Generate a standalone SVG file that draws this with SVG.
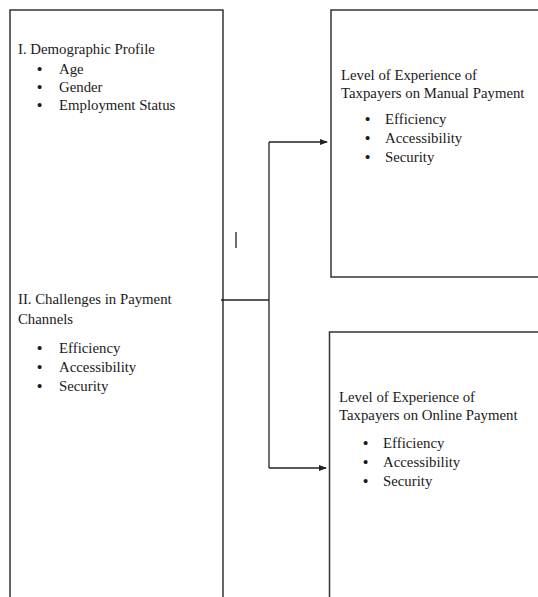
<svg xmlns="http://www.w3.org/2000/svg" width="538" height="597" viewBox="0 0 538 597">
<defs>
<marker id="arr" markerWidth="8" markerHeight="6" refX="7" refY="3" orient="auto" markerUnits="userSpaceOnUse">
<path d="M0,0 L8,3 L0,6 Z" fill="#222"/>
</marker>
<style>
.box{fill:#fff;stroke:#333;stroke-width:1.5}
.t{font-family:"Liberation Serif","Times New Roman",serif;font-size:14.8px;fill:#1a1a1a}
.b{font-family:"Liberation Serif","Times New Roman",serif;font-size:14.8px;font-weight:bold;fill:#1a1a1a}
.c{stroke:#222;stroke-width:1.3;fill:none}
</style>
</defs>
<rect width="538" height="597" fill="#fff"/>
<g id="left">
<rect class="box" x="10" y="10" width="213" height="600"/>
<text class="t" x="18" y="54">I. Demographic Profile</text>
<text class="b" x="37" y="74">•</text><text class="t" x="59" y="74">Age</text>
<text class="b" x="37" y="92">•</text><text class="t" x="59" y="92">Gender</text>
<text class="b" x="37" y="110">•</text><text class="t" x="59" y="110">Employment Status</text>
<text class="t" x="18" y="304">II. Challenges in Payment</text>
<text class="t" x="18" y="324">Channels</text>
<text class="b" x="37" y="353">•</text><text class="t" x="59" y="353">Efficiency</text>
<text class="b" x="37" y="372">•</text><text class="t" x="59" y="372">Accessibility</text>
<text class="b" x="37" y="391">•</text><text class="t" x="59" y="391">Security</text>
</g>
<g id="manual">
<rect class="box" x="331" y="10" width="220" height="267"/>
<text class="t" x="341" y="80">Level of Experience of</text>
<text class="t" x="341" y="98">Taxpayers on Manual Payment</text>
<text class="b" x="365" y="124">•</text><text class="t" x="385" y="124">Efficiency</text>
<text class="b" x="365" y="143">•</text><text class="t" x="385" y="143">Accessibility</text>
<text class="b" x="365" y="162">•</text><text class="t" x="385" y="162">Security</text>
</g>
<g id="online">
<rect class="box" x="329.5" y="332" width="220" height="280"/>
<text class="t" x="339" y="402">Level of Experience of</text>
<text class="t" x="339" y="420">Taxpayers on Online Payment</text>
<text class="b" x="363" y="448">•</text><text class="t" x="383" y="448">Efficiency</text>
<text class="b" x="363" y="467">•</text><text class="t" x="383" y="467">Accessibility</text>
<text class="b" x="363" y="486">•</text><text class="t" x="383" y="486">Security</text>
</g>
<g id="connectors">
<path class="c" d="M221,300 H269 M269,142 V468"/>
<path class="c" d="M269,142 H327" marker-end="url(#arr)"/>
<path class="c" d="M269,468 H326" marker-end="url(#arr)"/>
<path class="c" d="M236,232 V248"/>
</g>
</svg>
